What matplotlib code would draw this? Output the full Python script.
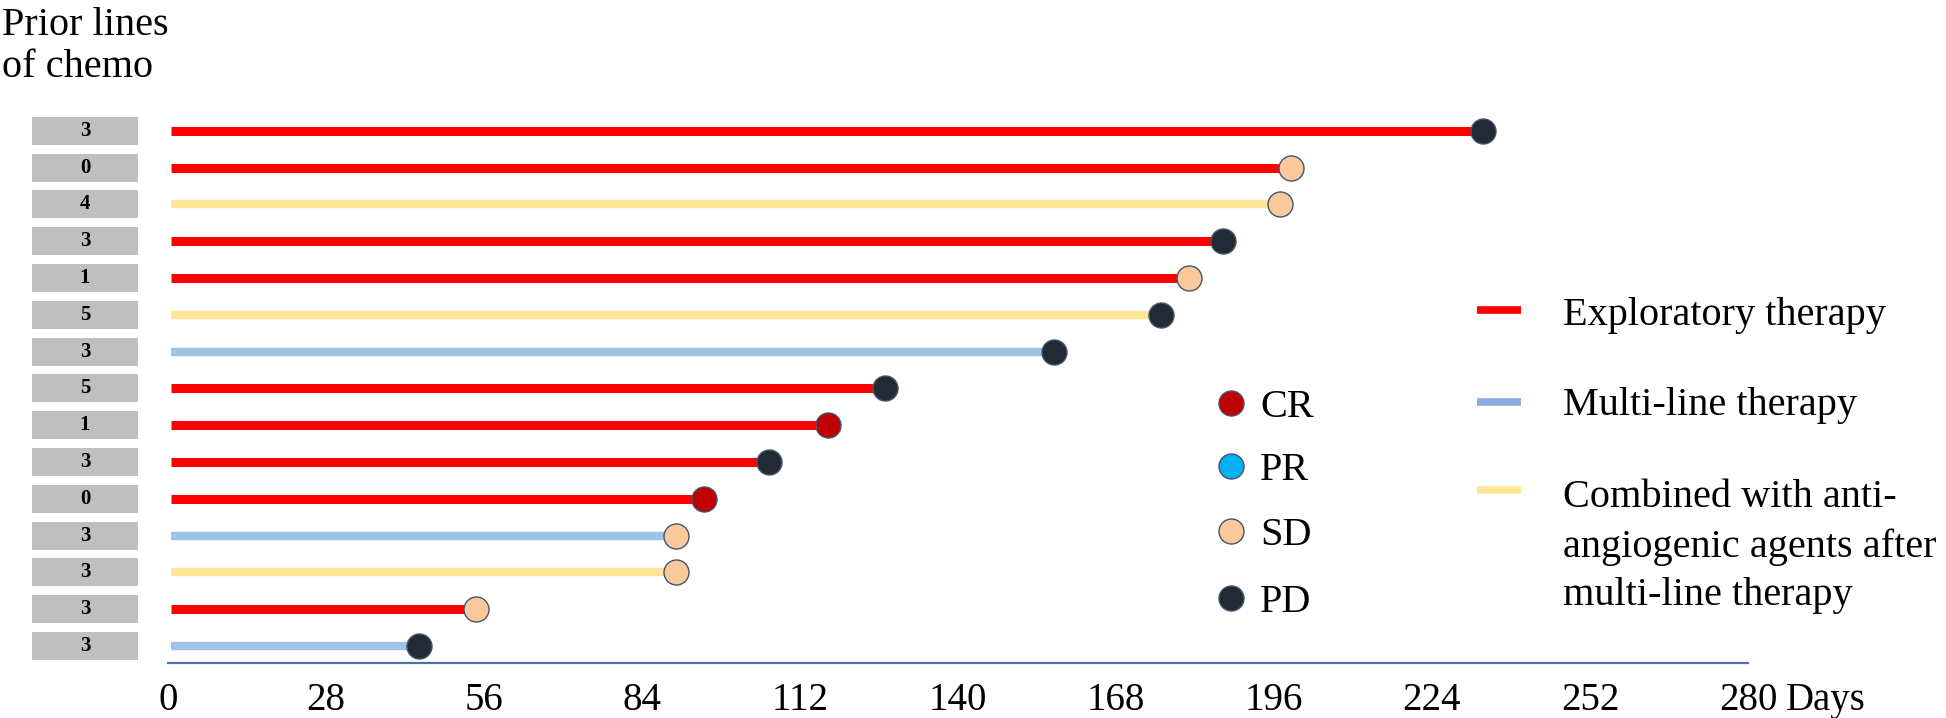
import matplotlib.pyplot as plt
from matplotlib.patches import Rectangle
from matplotlib.transforms import blended_transform_factory

plt.rcParams["font.family"] = ["Liberation Serif", "DejaVu Serif"]

# one row per patient, top to bottom
prior_lines = [3, 0, 4, 3, 1, 5, 3, 5, 1, 3, 0, 3, 3, 3, 3]
therapy = [
    "Exploratory", "Exploratory", "Combined", "Exploratory", "Exploratory",
    "Combined", "Multi-line", "Exploratory", "Exploratory", "Exploratory",
    "Exploratory", "Multi-line", "Combined", "Exploratory", "Multi-line",
]
days = [233, 199, 197, 187, 181, 176, 157, 127, 117, 106.5, 95, 90, 90, 54.5, 44.5]
response = ["PD", "SD", "SD", "PD", "SD", "PD", "PD", "PD", "CR", "PD", "CR", "SD", "SD", "SD", "PD"]

x_ticks = [0, 28, 56, 84, 112, 140, 168, 196, 224, 252, 280]

therapy_names = ["Exploratory", "Multi-line", "Combined"]
therapy_labels = [
    "Exploratory therapy",
    "Multi-line therapy",
    "Combined with anti-\nangiogenic agents after\nmulti-line therapy",
]
response_names = ["CR", "PR", "SD", "PD"]

bar_colors = {"Exploratory": "#FF0000", "Multi-line": "#9DC3E6", "Combined": "#FFE699"}
legend_line_colors = {"Exploratory": "#FF0000", "Multi-line": "#8FAADC", "Combined": "#FFE699"}
response_colors = {"CR": "#C00000", "PR": "#00B0F0", "SD": "#F9C89B", "PD": "#222A35"}
edge_color = "#44546A"

W, H = 1946, 718
fig = plt.figure(figsize=(W / 100, H / 100), dpi=100)

# main chart, placed in pixel terms
left, right, top, bottom = 168, 1748, 105, 663
ax = fig.add_axes([left / W, (H - bottom) / H, (right - left) / W, (bottom - top) / H])
n = len(days)
ax.set_xlim(0, 280)
ax.set_ylim(-0.46, n - 1 + 0.7)

for i in range(n):
    y = n - 1 - i
    lw = 6.5 if therapy[i] == "Exploratory" else 6
    ax.plot([0.6, days[i]], [y, y], color=bar_colors[therapy[i]], lw=lw,
            solid_capstyle="butt", zorder=2)
    ax.plot(days[i], y, "o", ms=18, mfc=response_colors[response[i]],
            mec=edge_color, mew=1, zorder=3)

for s in ["top", "right", "left"]:
    ax.spines[s].set_visible(False)
ax.spines["bottom"].set_color("#4A72B0")
ax.spines["bottom"].set_linewidth(1.6)
ax.set_yticks([])
ax.set_xticks(x_ticks)
ax.tick_params(axis="x", length=0, pad=14, labelsize=28)
ax.annotate("Days", xy=(280, 0), xycoords=("data", "axes fraction"),
            xytext=(27, -14), textcoords="offset points",
            ha="left", va="top", fontsize=28)

# overlay in pixel coordinates for the side texts and legends
ax_px = fig.add_axes([0, 0, 1, 1])
ax_px.set_xlim(0, W)
ax_px.set_ylim(H, 0)
ax_px.axis("off")

# grey boxes with prior lines of chemo
box_tr = blended_transform_factory(ax_px.transData, ax.transData)
for i in range(n):
    y = n - 1 - i
    ax.add_patch(Rectangle((32, y - 0.38), 106, 0.76, transform=box_tr,
                           facecolor="#BFBFBF", edgecolor="none", clip_on=False))
    ax.text(85, y, str(prior_lines[i]), transform=box_tr, ha="center",
            va="center", fontsize=15, fontweight="bold", clip_on=False)

ax_px.text(2, 35, "Prior lines", ha="left", va="baseline", fontsize=29)
ax_px.text(2, 77, "of chemo", ha="left", va="baseline", fontsize=29)

# response legend
resp_y = [403, 466, 531, 598]
for name, yy in zip(response_names, resp_y):
    ax_px.plot(1231, yy, "o", ms=18, mfc=response_colors[name], mec=edge_color, mew=1)
    ax_px.text(1260, yy, name, ha="left", va="center_baseline", fontsize=29)

# therapy legend
ther_y = [310, 402, 490]
text_top = [297, 387, 479]
for name, label, yy, ty in zip(therapy_names, therapy_labels, ther_y, text_top):
    ax_px.plot([1477, 1521], [yy, yy], color=legend_line_colors[name], lw=5.5,
               solid_capstyle="butt")
    ax_px.text(1563, ty, label, ha="left", va="top", fontsize=29,
               linespacing=1.42)

fig.savefig("out.png", dpi=100)
